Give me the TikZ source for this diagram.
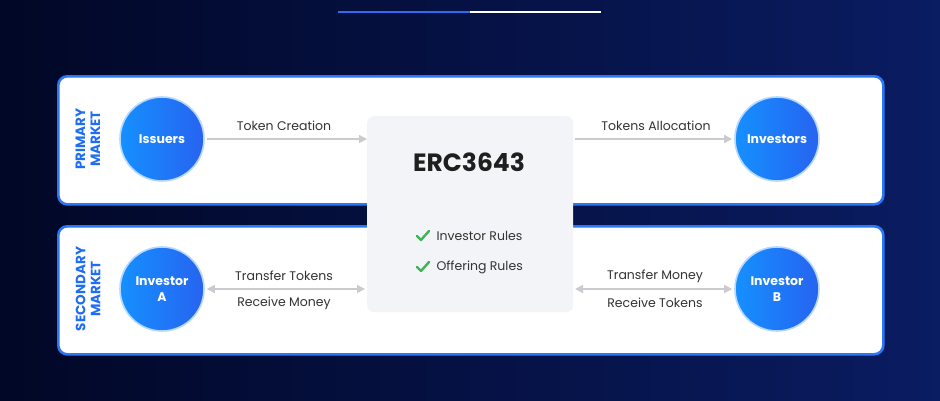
\documentclass[tikz,border=0pt]{standalone}
\usepackage{fontspec}
\setmainfont{Poppins}
\usetikzlibrary{arrows.meta}
\definecolor{bgA}{HTML}{010726}
\definecolor{bgB}{HTML}{0A1C62}
\definecolor{bord}{HTML}{2A78F6}
\definecolor{barblue}{HTML}{2E6BF0}
\definecolor{cardbg}{HTML}{F3F4F7}
\definecolor{circA}{HTML}{1590FF}
\definecolor{circB}{HTML}{2763F0}
\definecolor{halo}{HTML}{B6D8FF}
\definecolor{arrowgray}{HTML}{CACBCE}
\definecolor{txtgray}{HTML}{333333}
\definecolor{sidelbl}{HTML}{1E6DF2}
\definecolor{chk}{HTML}{3DB554}
\tikzset{
  panel/.style={draw=bord, line width=2.6pt, fill=white, rounded corners=9pt},
  actor/.style={circle, minimum size=84pt, inner sep=0pt, left color=circA, right color=circB,
     draw=halo, line width=1.6pt, text=white, font=\fontsize{12.5}{15}\selectfont\bfseries, align=center},
  flow/.style={draw=arrowgray, line width=1.3pt, -{Triangle[length=8pt,width=8pt]}},
  biflow/.style={draw=arrowgray, line width=1.3pt, {Triangle[length=8pt,width=8pt]}-{Triangle[length=8pt,width=8pt]}},
  lbl/.style={text=txtgray, font=\fontsize{12.5}{15}\selectfont},
  side/.style={text=sidelbl, font=\fontsize{13.5}{15}\selectfont\bfseries, align=center, rotate=90, inner sep=0pt},
  card/.style={fill=cardbg, rounded corners=7pt, draw=none},
  rule/.style={text=txtgray, font=\fontsize{12.5}{15}\selectfont, anchor=west},
}
\begin{document}
\begin{tikzpicture}[x=1pt,y=-1pt]
\useasboundingbox (0,0) rectangle (940,400);
\shade[left color=bgA, right color=bgB] (0,0) rectangle (940,400);
% progress bar
\coordinate (barL) at (338,12);
\coordinate (barM) at (470,12);
\coordinate (barR) at (601,12);
\draw[barblue, line width=2.6pt] (barL) -- (barM);
\draw[white, line width=2.6pt] (barM) -- (barR);
% panels
\node[panel, minimum width=825pt, minimum height=128pt, anchor=north west] (top) at (57,75) {};
\node[panel, minimum width=825pt, minimum height=128pt, anchor=north west] (bot) at (57,225) {};
% central card
\node[card, minimum width=206pt, minimum height=196pt, anchor=north west] (erc) at (367,116) {};
\node[font=\fontsize{25}{30}\selectfont\bfseries, text=black!88] (title) at (469,162) {ERC3643};
% checks
\coordinate (c1) at (423,236);
\coordinate (c2) at (423,267);
\foreach \c in {c1,c2}{
  \draw[chk, line width=2.4pt, line cap=round, line join=round]
    ([shift={(-6,0)}]\c) -- ([shift={(-2,4)}]\c) -- ([shift={(6,-5)}]\c);
}
\node[rule] (r1) at (433,236) {Investor Rules};
\node[rule] (r2) at (433,267) {Offering Rules};
% side labels
\node[side] (pm) at (88,139) {PRIMARY\\MARKET};
\node[side] (sm) at (88,289) {SECONDARY\\MARKET};
% actors
\node[actor] (iss) at (162,139) {Issuers};
\node[actor] (inv) at (777,139) {Investors};
\node[actor] (ia) at (162,289) {Investor\\[1pt]A};
\node[actor] (ib) at (777,289) {Investor\\[1pt]B};
% connectors
\coordinate (ercL1) at (367,139);
\coordinate (ercR1) at (573,139);
\coordinate (ercL2) at (367,289);
\coordinate (ercR2) at (573,289);
\draw[flow] (iss.east) ++(2,0) -- (ercL1);
\draw[flow] (ercR1) ++(2,0) -- ([xshift=-2pt]inv.west);
\draw[biflow] ([xshift=2pt]ia.east) -- ([xshift=-2pt]ercL2);
\draw[biflow] ([xshift=2pt]ercR2) -- ([xshift=-2pt]ib.west);
\node[lbl] (l1) at (284,126) {Token Creation};
\node[lbl] (l2) at (656,126) {Tokens Allocation};
\node[lbl] (l3) at (284,276) {Transfer Tokens};
\node[lbl] (l4) at (284,303) {Receive Money};
\node[lbl] (l5) at (655,276) {Transfer Money};
\node[lbl] (l6) at (655,303) {Receive Tokens};
\end{tikzpicture}
\end{document}
